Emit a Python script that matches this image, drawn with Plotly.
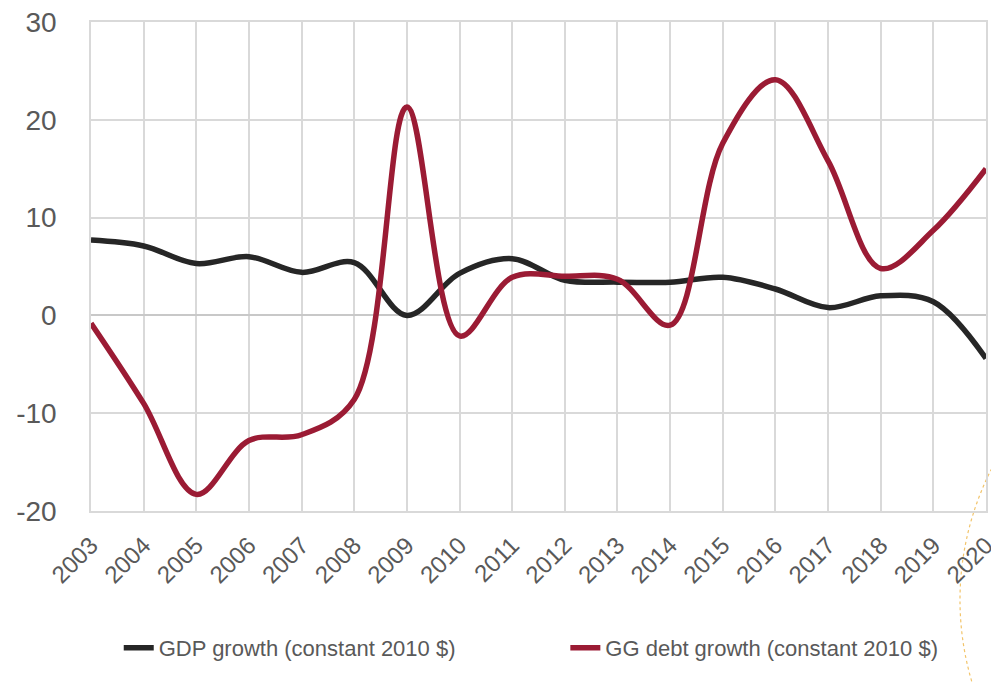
import plotly.graph_objs as go

years = list(range(2003, 2021))
gdp_growth = [7.7, 7.1, 5.3, 6.0, 4.4, 5.4, 0.0, 4.3, 5.8, 3.6, 3.4, 3.4, 3.9, 2.7, 0.8, 2.0, 1.4, -4.4]
debt_growth = [-0.8, -9.0, -18.3, -12.8, -12.2, -8.6, 21.3, -2.1, 3.9, 4.0, 3.7, -1.0, 17.6, 24.1, 15.8, 4.8, 8.7, 15.0]

y_ticks = [-20, -10, 0, 10, 20, 30]
y_tick_labels = ["-20", "-10", "0", "10", "20", "30"]

FONT = "Liberation Sans Narrow, Arial Narrow, Liberation Sans, Arial"
GREY_TXT = "#595959"
GRID = "#d9d9d9"

fig = go.Figure()

fig.add_trace(
    go.Scatter(
        x=years, y=gdp_growth,
        mode="lines",
        name="GDP growth (constant 2010 $)",
        line=dict(color="#262626", width=5.5, shape="spline", smoothing=1),
        legend="legend",
    )
)
fig.add_trace(
    go.Scatter(
        x=years, y=debt_growth,
        mode="lines",
        name="GG debt growth (constant 2010 $)",
        line=dict(color="#9b1b34", width=5.5, shape="spline", smoothing=1),
        legend="legend2",
    )
)

# faint dotted arc from the slide background
fig.add_shape(
    type="circle", xref="paper", yref="paper",
    x0=(960 - 91) / 895, x1=(1536 - 91) / 895,
    y0=(511 - 888) / 489, y1=(511 - 312) / 489,
    line=dict(color="#f2c46a", width=1.2, dash="dot"),
    layer="below",
)

legend_style = dict(
    orientation="h",
    y=-0.28, yanchor="middle",
    xanchor="left",
    font=dict(size=22, color=GREY_TXT, family=FONT),
    bgcolor="rgba(0,0,0,0)",
)

# page body has an 8px margin, so the figure is sized to fit the window
fig.update_layout(
    width=983, height=674,
    margin=dict(l=83, r=5, t=14, b=171, autoexpand=False),
    paper_bgcolor="white",
    plot_bgcolor="white",
    font=dict(family=FONT, color=GREY_TXT),
    showlegend=True,
    legend=dict(legend_style, x=0.031),
    legend2=dict(legend_style, x=0.530),
    xaxis=dict(
        range=[2003, 2020],
        tickmode="linear", tick0=2003, dtick=1,
        tickangle=-45,
        tickfont=dict(size=24, color=GREY_TXT, family=FONT),
        showgrid=True, gridcolor=GRID, gridwidth=1.5,
        showline=True, linecolor=GRID, linewidth=1.5, mirror=True,
        zeroline=False, automargin=False,
        ticks="", ticklabelstandoff=9, ticklabeloverflow="allow",
    ),
    yaxis=dict(
        range=[-20, 30],
        tickmode="array", tickvals=y_ticks, ticktext=y_tick_labels,
        tickfont=dict(size=28, color=GREY_TXT, family=FONT),
        showgrid=True, gridcolor=GRID, gridwidth=1.5,
        showline=True, linecolor=GRID, linewidth=1.5, mirror=True,
        zeroline=True, zerolinecolor="#c8c8c8", zerolinewidth=1.5,
        automargin=False,
        ticks="", ticklabelstandoff=27, ticklabeloverflow="allow",
    ),
)

fig.write_html("out.html")
